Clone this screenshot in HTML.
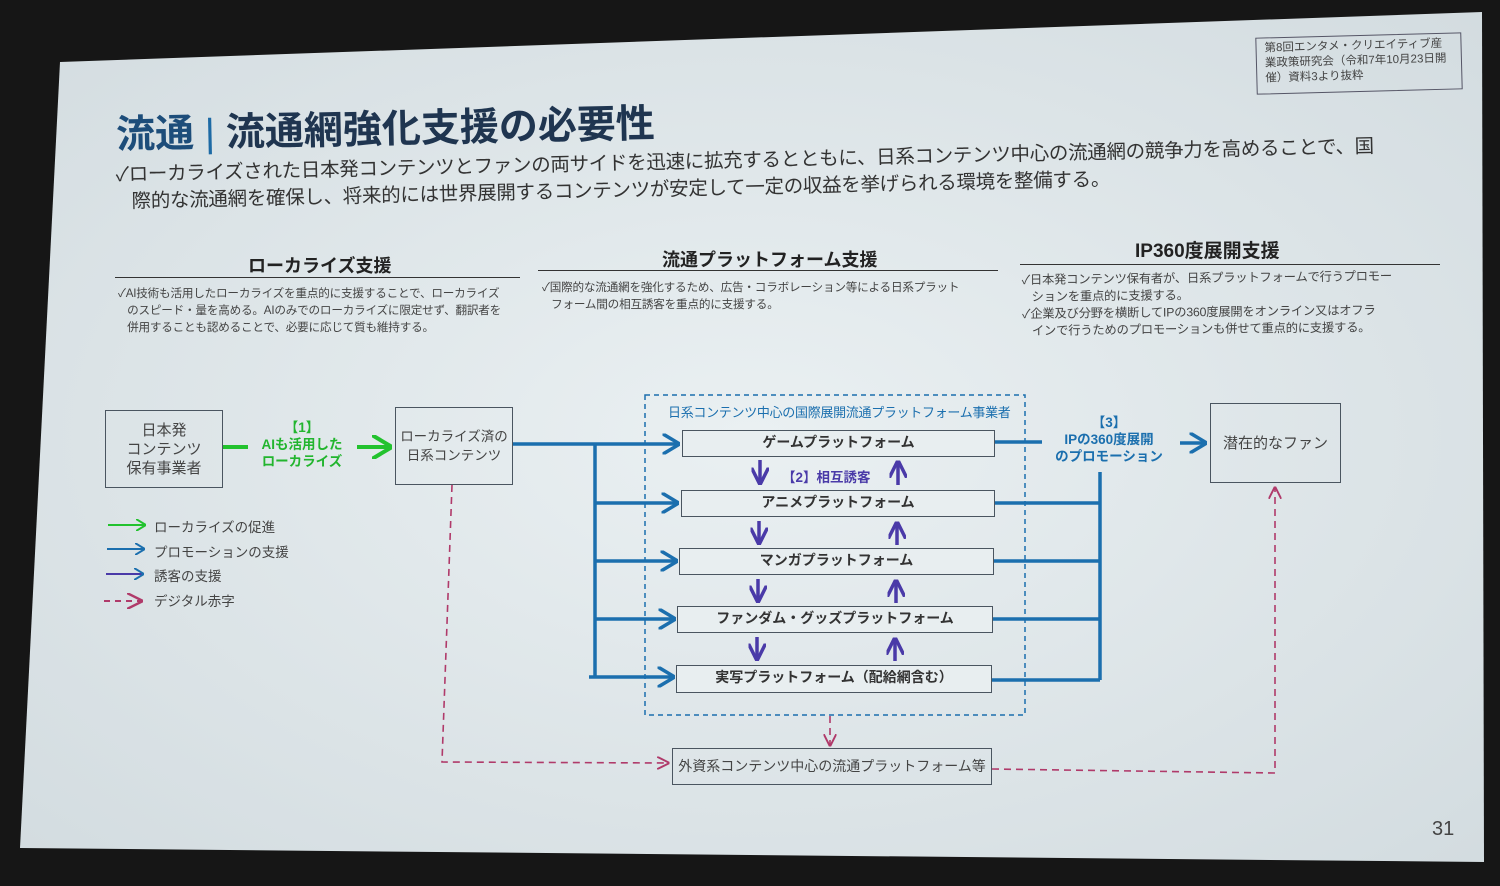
<!DOCTYPE html>
<html><head><meta charset="utf-8"><style>
html,body{margin:0;padding:0;width:1500px;height:886px;overflow:hidden;background:#161616;}
body{position:relative;font-family:"Liberation Sans","Noto Sans CJK JP",sans-serif;color:#333;}
.a{position:absolute;white-space:nowrap;}
.box{position:absolute;border:1.5px solid #4a5560;box-sizing:border-box;display:flex;align-items:center;justify-content:center;text-align:center;font-size:14px;color:#444;line-height:19px;}
.pf{position:absolute;border:1.5px solid #4a5560;box-sizing:border-box;text-align:center;font-size:14px;font-weight:bold;color:#333;line-height:23px;background:#e8eef0;}
.d{font-size:11.6px;color:#444;line-height:17px;letter-spacing:-0.2px;}
</style></head><body>
<svg class="a" style="left:0;top:0" width="1500" height="886">
<defs>
<radialGradient id="g" cx="50%" cy="50%" r="70%"><stop offset="0" stop-color="#eaf0f2"/><stop offset="1" stop-color="#d3dce0"/></radialGradient>
</defs>
<polygon points="60,62 1482,12 1484,862 20,848" fill="url(#g)"/>
</svg>

<div class="a" style="left:1256px;top:35px;width:206px;height:57px;border:1.5px solid #556;box-sizing:border-box;font-size:11.5px;line-height:15px;padding:3px 8px;color:#444;white-space:normal;transform:rotate(-1.5deg)">第8回エンタメ・クリエイティブ産業政策研究会（令和7年10月23日開催）資料3より抜粋</div>

<div class="a" style="left:116px;top:104px;font-size:39px;font-weight:bold;color:#1d4d7a;transform:rotate(-1.2deg);transform-origin:left">流通 <span style="font-weight:normal;color:#1d6aa5">|</span> <span style="color:#1f3550">流通網強化支援の必要性</span></div>
<div class="a" style="left:116px;top:162px;font-size:19.5px;letter-spacing:-0.3px;color:#333;transform:rotate(-1.3deg);transform-origin:left;line-height:27px">✓ローカライズされた日本発コンテンツとファンの両サイドを迅速に拡充するとともに、日系コンテンツ中心の流通網の競争力を高めることで、国<br>&nbsp;&nbsp;&nbsp;際的な流通網を確保し、将来的には世界展開するコンテンツが安定して一定の収益を挙げられる環境を整備する。</div>

<div class="a" style="left:248px;top:252px;font-size:18px;font-weight:bold;color:#222">ローカライズ支援</div>
<div class="a" style="left:115px;top:277px;width:405px;border-top:1.5px solid #333"></div>
<div class="a d" style="left:118px;top:285px">✓AI技術も活用したローカライズを重点的に支援することで、ローカライズ<br>&nbsp;&nbsp;&nbsp;のスピード・量を高める。AIのみでのローカライズに限定せず、翻訳者を<br>&nbsp;&nbsp;&nbsp;併用することも認めることで、必要に応じて質も維持する。</div>

<div class="a" style="left:662px;top:246px;font-size:18px;font-weight:bold;color:#222">流通プラットフォーム支援</div>
<div class="a" style="left:538px;top:270px;width:460px;border-top:1.5px solid #333"></div>
<div class="a d" style="left:542px;top:279px">✓国際的な流通網を強化するため、広告・コラボレーション等による日系プラット<br>&nbsp;&nbsp;&nbsp;フォーム間の相互誘客を重点的に支援する。</div>

<div class="a" style="left:1135px;top:236px;font-size:19px;font-weight:bold;color:#222">IP360度展開支援</div>
<div class="a" style="left:1020px;top:264px;width:420px;border-top:1.5px solid #333"></div>
<div class="a d" style="left:1022px;top:272px;font-size:12.3px;transform:rotate(-0.6deg);transform-origin:left">✓日本発コンテンツ保有者が、日系プラットフォームで行うプロモー<br>&nbsp;&nbsp;&nbsp;ションを重点的に支援する。<br>✓企業及び分野を横断してIPの360度展開をオンライン又はオフラ<br>&nbsp;&nbsp;&nbsp;インで行うためのプロモーションも併せて重点的に支援する。</div>

<svg class="a" style="left:0;top:0" width="1500" height="886">
<defs>
<marker id="ab" markerWidth="5" markerHeight="6" refX="4.5" refY="3" orient="auto" markerUnits="strokeWidth"><path d="M0,0 L5,3 L0,6" fill="none" stroke="#1b6fae" stroke-width="1"/></marker>
<marker id="ag" markerWidth="5" markerHeight="6" refX="4.5" refY="3" orient="auto" markerUnits="strokeWidth"><path d="M0,0 L5,3 L0,6" fill="none" stroke="#22c22e" stroke-width="1"/></marker>
<marker id="ap" markerWidth="5" markerHeight="5" refX="4.5" refY="2.5" orient="auto" markerUnits="strokeWidth"><path d="M0,0 L5,2.5 L0,5" fill="none" stroke="#4a3aa8" stroke-width="1"/></marker>
<marker id="ar" markerWidth="8" markerHeight="8" refX="7" refY="4" orient="auto" markerUnits="strokeWidth"><path d="M0,0 L8,4 L0,8" fill="none" stroke="#b03a6a" stroke-width="1.2"/></marker>
</defs>
<g fill="none">
<line x1="222" y1="447" x2="248" y2="447" stroke="#22c22e" stroke-width="4"/>
<line x1="357" y1="447" x2="390" y2="447" stroke="#22c22e" stroke-width="4" marker-end="url(#ag)"/>
<rect x="645" y="395" width="380" height="320" stroke="#1b6fae" stroke-width="1.5" stroke-dasharray="5,4"/>
<g stroke="#1b6fae" stroke-width="3.5">
<line x1="512" y1="444" x2="678" y2="444" marker-end="url(#ab)"/>
<line x1="595" y1="444" x2="595" y2="677"/>
<line x1="595" y1="503" x2="677" y2="503" marker-end="url(#ab)"/>
<line x1="595" y1="561" x2="676" y2="561" marker-end="url(#ab)"/>
<line x1="595" y1="619" x2="674" y2="619" marker-end="url(#ab)"/>
<line x1="589" y1="677" x2="673" y2="677" marker-end="url(#ab)"/>
<line x1="995" y1="442" x2="1042" y2="442"/>
<line x1="1100" y1="472" x2="1100" y2="680"/>
<line x1="995" y1="503" x2="1100" y2="503"/>
<line x1="994" y1="561" x2="1100" y2="561"/>
<line x1="993" y1="619" x2="1100" y2="619"/>
<line x1="992" y1="680" x2="1100" y2="680"/>
<line x1="1180" y1="443" x2="1205" y2="443" marker-end="url(#ab)"/>
</g>
<g stroke="#4a3aa8" stroke-width="3.5">
<line x1="760" y1="460" x2="760" y2="483" marker-end="url(#ap)"/>
<line x1="898" y1="485" x2="898" y2="462" marker-end="url(#ap)"/>
<line x1="759" y1="521" x2="759" y2="543" marker-end="url(#ap)"/>
<line x1="897" y1="545" x2="897" y2="523" marker-end="url(#ap)"/>
<line x1="758" y1="579" x2="758" y2="601" marker-end="url(#ap)"/>
<line x1="896" y1="603" x2="896" y2="581" marker-end="url(#ap)"/>
<line x1="757" y1="637" x2="757" y2="659" marker-end="url(#ap)"/>
<line x1="895" y1="661" x2="895" y2="639" marker-end="url(#ap)"/>
</g>
<g stroke="#b03a6a" stroke-width="1.6" stroke-dasharray="7,5">
<polyline points="452,485 442,762 668,763" marker-end="url(#ar)"/>
<polyline points="992,769 1275,773 1275,488" marker-end="url(#ar)"/>
<line x1="830" y1="716" x2="830" y2="745" marker-end="url(#ar)"/>
</g>
<line x1="108" y1="525" x2="145" y2="525" stroke="#22c22e" stroke-width="2" marker-end="url(#ag)"/>
<line x1="107" y1="549" x2="144" y2="549" stroke="#1b6fae" stroke-width="2" marker-end="url(#ab)"/>
<line x1="106" y1="574" x2="143" y2="574" stroke="#4a3aa8" stroke-width="2" marker-end="url(#ab)"/>
<line x1="104" y1="601" x2="141" y2="601" stroke="#b03a6a" stroke-width="2" stroke-dasharray="6,5" marker-end="url(#ar)"/>
</g>
</svg>

<div class="box" style="left:105px;top:410px;width:118px;height:78px;font-size:15px">日本発<br>コンテンツ<br>保有事業者</div>
<div class="a" style="left:250px;top:419px;width:104px;text-align:center;font-size:13.5px;font-weight:bold;color:#22b52e;line-height:17px">【1】<br>AIも活用した<br>ローカライズ</div>
<div class="box" style="left:395px;top:407px;width:118px;height:78px;font-size:13.5px">ローカライズ済の<br>日系コンテンツ</div>
<div class="a" style="left:668px;top:402px;font-size:13px;color:#1b6fae;letter-spacing:-0.3px">日系コンテンツ中心の国際展開流通プラットフォーム事業者</div>
<div class="pf" style="left:682px;top:430px;width:313px;height:27px">ゲームプラットフォーム</div>
<div class="a" style="left:782px;top:466px;font-size:13.5px;font-weight:bold;color:#4a3aa8">【2】相互誘客</div>
<div class="pf" style="left:681px;top:490px;width:314px;height:27px">アニメプラットフォーム</div>
<div class="pf" style="left:679px;top:548px;width:315px;height:27px">マンガプラットフォーム</div>
<div class="pf" style="left:677px;top:606px;width:316px;height:27px">ファンダム・グッズプラットフォーム</div>
<div class="pf" style="left:676px;top:665px;width:316px;height:28px">実写プラットフォーム（配給網含む）</div>
<div class="a" style="left:1048px;top:414px;width:122px;text-align:center;font-size:13.5px;font-weight:bold;color:#1b6fae;line-height:17px">【3】<br>IPの360度展開<br>のプロモーション</div>
<div class="box" style="left:1210px;top:403px;width:131px;height:80px;font-size:15px">潜在的なファン</div>
<div class="box" style="left:672px;top:748px;width:320px;height:37px">外資系コンテンツ中心の流通プラットフォーム等</div>
<div class="a" style="left:154px;top:516px;font-size:13.5px;color:#444;line-height:24.5px">ローカライズの促進<br>プロモーションの支援<br>誘客の支援<br>デジタル赤字</div>
<div class="a" style="left:1432px;top:818px;font-size:20px;color:#444">31</div>
</body></html>
